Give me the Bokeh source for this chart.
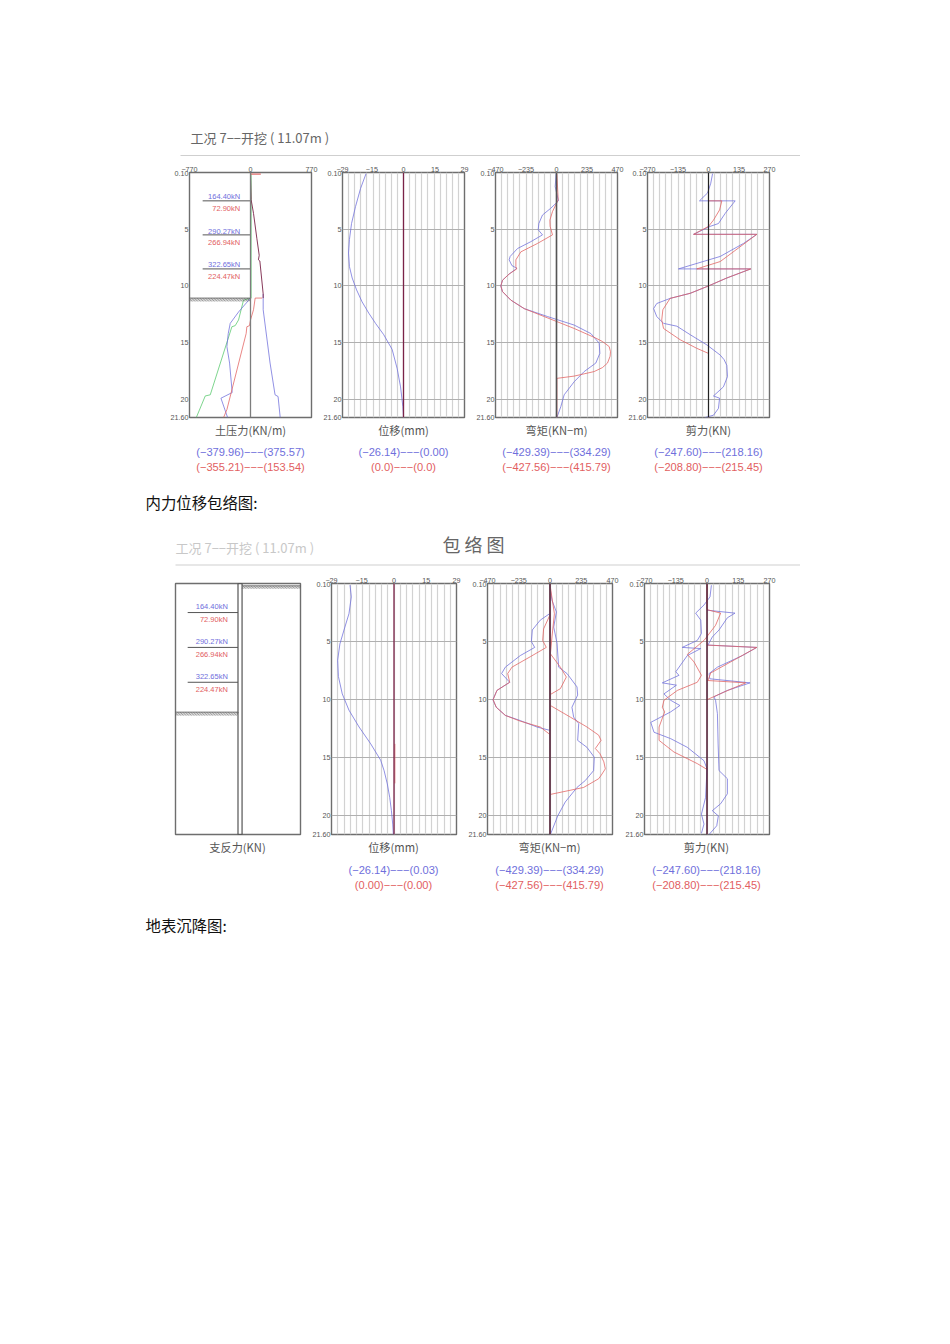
from bokeh.plotting import figure
from bokeh.layouts import column, row
from bokeh.models import Range1d, FixedTicker, Span
from bokeh.core.properties import value
from bokeh.embed import file_html
from bokeh.resources import INLINE
import numpy as np

BLUE, RED, GREEN, MAROON = "#6f6fdc", "#e2605f", "#55c86a", "#7a2348"
CJK, LAT = "Noto Sans CJK SC", "Liberation Sans"

# ---- values: pressure (kN/m) against depth (m)
press_d_spike = [0.15, 0.15]
press_v_spike = [130, 0]
press_d_red_upper = [0.15, 2.4, 3.6, 5.8, 7.3, 7.7, 7.8, 10.7, 11.07]
press_v_red_upper = [0, 8, 38, 80, 110, 100, 118, 160, 160]
press_d_red_lower = [11.07, 11.07, 12.1, 13.0, 13.5, 13.6, 14.2, 20.9, 21.6]
press_v_red_lower = [147, 59, 38, 0, -13, -46, -55, -298, -340]
press_d_blue_right = [10.7, 12.1, 16.8, 19.6, 19.75, 21.6]
press_v_blue_right = [160, 160, 247, 310, 348, 375]
press_d_blue_left = [11.07, 12.3, 13.3, 14.2, 15.35, 16.8, 19.4, 19.9, 21.6]
press_v_blue_left = [0, -151, -256, -281, -298, -264, -231, -373, -289]
press_d_green = [0.1, 11.07, 11.25, 13.0, 13.5, 13.6, 19.6, 19.7, 21.6]
press_v_green = [8, 8, -88, -151, -193, -235, -508, -571, -684]

# ---- displacement (mm)
disp_d_top = [0.1, 1.4, 3.0, 4.5, 5.9, 7.1, 8.3, 9.3, 10.35, 11.4, 12.4, 13.3, 14.3, 15.6, 17.3, 18.9, 20.65, 21.6]
disp_v_top = [-17.8, -20.4, -22.8, -24.7, -25.7, -26.14, -25.7, -24.4, -22.3, -19.7, -16.5, -13.3, -9.4, -5.4, -3.0, -1.4, -0.3, 0]
disp_d_env = [0.14, 1.15, 2.6, 4.0, 5.2, 6.6, 8.0, 9.5, 10.9, 12.35, 13.8, 14.5, 15.2, 16.1, 17.25, 18.4, 19.55, 20.7, 21.6]
disp_v_env = [-20.4, -19.8, -20.9, -23.2, -25.1, -26.14, -25.8, -24.0, -20.9, -16.2, -10.8, -8.5, -6.2, -4.6, -3.1, -2.0, -1.2, -0.6, -0.3]
disp_d_env_red = [13.8, 17.2]
disp_v_env_red = [0.4, 0.4]

# ---- bending moment (kN-m)
mom_d_blue = [0.1, 1.25, 2.5, 3.15, 3.75, 4.5, 5.05, 5.5, 6.1, 6.7, 7.4, 7.7, 8.2, 8.45, 8.95, 9.5, 10, 10.5, 11.25, 12, 12.7, 13.45, 14.2, 15.05, 15.95, 16.8, 17.55, 18.45, 19.6, 20.65, 21.6]
mom_v_blue = [-3, -10, 15, -44, -108, -136, -141, -108, -198, -300, -357, -365, -344, -306, -365, -416, -429, -416, -352, -249, -69, 136, 265, 329, 334, 303, 213, 136, 59, 33, 3]
mom_d_red = [0.1, 2.4, 3.45, 4.2, 4.75, 5.5, 6.25, 7.0, 7.7, 8.3, 8.5, 8.95, 9.5, 10, 10.5, 11.25, 12, 12.7, 13.75, 14.6, 14.9, 15.35, 15.8, 16.2, 16.8, 17.2, 17.55, 17.75, 17.95, 18.15, 21.6]
mom_v_red = [3, 13, -31, -51, -49, -31, -146, -275, -313, -313, -306, -365, -416, -429, -416, -352, -249, -95, 136, 303, 354, 406, 416, 413, 393, 354, 290, 213, 136, 3, 3]
env_mom_d_blue_max = [0.1, 1.45, 2.45, 3.75, 5.15, 7.2, 7.75, 8.9, 9.6, 10.65, 11.5, 12.05, 13.5, 14.1, 14.95, 16.1, 16.95, 17.55, 18.8, 20, 21.6]
env_mom_v_blue_max = [-3, 15, 48, 28, 53, 65, 128, 203, 208, 165, 178, 216, 208, 278, 333, 328, 266, 203, 115, 58, 3]
env_mom_d_blue_min = [2.6, 3.15, 4.0, 5.0, 5.5, 6.2, 7.2, 7.75, 8.5, 9.2, 10, 10.65, 11.35, 11.8, 12.35, 12.65]
env_mom_v_blue_min = [-3, -73, -133, -140, -115, -223, -336, -364, -303, -399, -429, -404, -336, -223, -98, 3]
env_mom_d_red_min = [2.7, 3.9, 4.9, 5.5, 6.3, 7.2, 7.75, 8.5, 9.2, 10, 10.65, 11.35, 11.85, 12.35, 13.0]
env_mom_v_red_min = [0, -48, -55, -28, -148, -286, -318, -303, -399, -428, -404, -336, -223, -73, 0]
env_mom_d_red_a = [0.1, 2.6, 4.6, 6.05, 7.2, 8.05, 9.05, 9.55]
env_mom_v_red_a = [0, 33, 15, 3, 78, 123, 78, 3]
env_mom_d_red_b = [10.5, 11.5, 12.35, 13.05, 13.5, 14.2, 14.65, 15.35, 15.95, 16.5, 16.8, 17.55, 18.15]
env_mom_v_red_b = [3, 153, 278, 366, 384, 341, 376, 405, 416, 385, 366, 253, 3]

# ---- shear (kN)
shear_d_blue = [0.1, 0.95, 1.8, 2.5, 2.5, 3.6, 4.5, 4.75, 5.45, 5.45, 6.25, 7.4, 8.5, 8.5, 9.3, 10, 10.65, 11.1, 11.55, 12, 12.7, 13.3, 13.55, 14.3, 15.2, 16.1, 16.5, 17, 18, 18.9, 19.7, 19.9, 20.8, 21.4, 21.6]
shear_v_blue = [18, 10, -4, -40, 118, 74, 44, 7, -66, 214, 155, 52, -133, 187, 81, 0, -81, -170, -229, -243, -229, -199, -140, -81, -7, 52, 69, 81, 84, 66, 22, 49, 44, 22, -15]
shear_d_red = [0.1, 2.5, 2.5, 3.3, 4.2, 4.75, 5.45, 5.45, 7.85, 8.5, 8.5, 9.3, 10, 10.65, 11.1, 12.1, 13, 13.75, 14.75, 15.5, 15.95, 21.6]
shear_v_red = [0, 0, 59, 49, 22, 0, -66, 214, 52, -52, 187, 81, 0, -81, -170, -202, -207, -199, -125, -52, 0, 0]
env_sh_d_blue_max = [2.3, 2.55, 2.95, 4.0, 4.6, 5.3, 5.5, 6.2, 7.2, 7.75, 8.2, 8.55, 9.2, 9.75, 10.05, 11.2, 13.8, 16.1, 16.8, 18.1, 18.95, 19.55, 20, 20.85, 21.6]
env_sh_v_blue_max = [1, 121, 88, 52, 23, 4, 215, 153, 45, 9, 12, 186, 88, 30, 37, 45, 48, 52, 88, 88, 59, 23, 49, 42, 9]
env_sh_d_blue_min = [0.15, 1.15, 1.85, 2.55, 3.15, 4.3, 4.9, 5.5, 5.6, 6.2, 7.6, 7.9, 8.55, 8.75, 9.5, 10.05, 10.5, 11.05, 11.95, 12.8, 13.35, 14.1, 15.25, 15.95, 18.4, 19.85, 20.7, 21.5]
env_sh_v_blue_min = [19, 13, -13, -49, -27, -24, -42, -107, -27, -85, -135, -121, -193, -132, -186, -157, -117, -157, -243, -229, -157, -85, -13, 0, -6, -24, -13, -24]
env_sh_d_red_a = [0.1, 2.25, 2.55, 3.6, 4.9, 6.1, 6.75, 7.9, 8.5, 9.2, 10.05, 10.65, 11.05, 12.35, 13.5, 14.5, 15.5, 16.0]
env_sh_v_red_a = [0, 0, 59, 37, -13, -85, -56, -24, -42, -128, -186, -193, -183, -207, -207, -143, -42, 0]
env_sh_d_red_b = [5.3, 5.5, 7.7, 8.35, 8.55, 9.35, 10.0]
env_sh_v_red_b = [0, 215, 16, 4, 167, 73, 0]

# ---- struts and labels
strut_depths = [2.5, 5.5, 8.5]
strut_blue = ["164.40kN", "290.27kN", "322.65kN"]
strut_red = ["72.90kN", "266.94kN", "224.47kN"]
excavation_depth = 11.07

press_ticks = [-770, 0, 770]
disp_ticks = [-29, -15, 0, 15, 29]
mom_ticks = [-470, -235, 0, 235, 470]
shear_ticks = [-270, -135, 0, 135, 270]
depth_ticks = [0.1, 5, 10, 15, 20, 21.6]
depth_labels = {0.1: "0.10", 5: "5", 10: "10", 15: "15", 20: "20", 21.6: "21.60"}


def panel(xmax, ticks, left, right, frame_w, frame_h, top, grid=True, axes=True):
    p = figure(width=left + frame_w + right, height=top + frame_h + 6,
               frame_width=frame_w, frame_height=frame_h,
               x_range=Range1d(-xmax, xmax), y_range=Range1d(21.6, 0),
               min_border_left=left, min_border_right=right,
               min_border_top=top, min_border_bottom=6,
               x_axis_location="above", toolbar_location=None, output_backend="svg")
    p.outline_line_color = "#6e6e6e"
    p.outline_line_width = 1.4
    p.xgrid.visible = grid
    p.ygrid.visible = grid
    p.xgrid.ticker = FixedTicker(ticks=list(np.linspace(-xmax, xmax, 21)))
    p.ygrid.ticker = FixedTicker(ticks=[5, 10, 15, 20])
    p.xgrid.grid_line_color = "#d2d2d2"
    p.ygrid.grid_line_color = "#b0b0b0"
    p.xgrid.grid_line_width = 1.2
    p.ygrid.grid_line_width = 1.2
    if not axes:
        p.xaxis.visible = False
        p.yaxis.visible = False
        return p
    p.xaxis.ticker = FixedTicker(ticks=ticks)
    p.yaxis.ticker = FixedTicker(ticks=depth_ticks)
    p.yaxis.major_label_overrides = depth_labels
    for ax in (p.xaxis[0], p.yaxis[0]):
        ax.axis_line_color = None
        ax.major_tick_line_color = None
        ax.minor_tick_line_color = None
        ax.major_tick_out = 0
        ax.major_tick_in = 0
        ax.minor_tick_out = 0
        ax.minor_tick_in = 0
        ax.major_label_text_font = LAT
        ax.major_label_text_font_size = "7.2px"
        ax.major_label_text_color = "#555555"
        ax.major_label_standoff = 1
    p.yaxis[0].major_label_orientation = "horizontal"
    return p


def curve(p, x, y, color, w=0.85):
    p.line(x, y, line_color=color, line_width=w, line_alpha=0.9, line_join="round")


def zero(p, color, w=1.3):
    p.add_layout(Span(location=0, dimension="height", line_color=color, line_width=w))


def hatch(p, x0, x1, d0, d1, n):
    xs = np.linspace(x0, x1, n)
    dx = (x1 - x0) / n * 1.3
    p.segment(xs[:-1], d1, xs[:-1] + dx, d0, line_color="#555555", line_width=0.6)
    p.line([x0, x1], [d0, d0], line_color="#555555", line_width=0.8)


def struts(p, d_blue, d_red, xs, x_text):
    for d, b, r, db, dr in zip(strut_depths, strut_blue, strut_red, d_blue, d_red):
        p.line([xs, 0], [d, d], line_color="#555555", line_width=1)
        p.text([x_text], [db], text=[b], text_color=BLUE, text_font=value(LAT), text_font_size="7.5px",
               text_align="right", text_baseline="middle")
        p.text([x_text], [dr], text=[r], text_color=RED, text_font=value(LAT), text_font_size="7.5px",
               text_align="right", text_baseline="middle")


def page_layer(y0, y1):
    p = figure(width=792, height=y1 - y0, x_range=Range1d(8, 800), y_range=Range1d(y1, y0),
               min_border=0, toolbar_location=None, output_backend="svg")
    p.axis.visible = False
    p.grid.visible = False
    p.outline_line_color = None
    return p


def put(p, x, y, s, size, color, font=CJK, align="center"):
    p.text([x], [y], text=[s], text_color=color, text_font=value(font), text_font_size=f"{size}px",
           text_align=align, text_baseline="middle")


def caption(p, x, y, s, blue=None, red=None, yb=0, yr=0):
    put(p, x, y, s, 11.2, "#555555")
    if blue:
        put(p, x, yb, blue, 11.1, BLUE, LAT)
        put(p, x, yr, red, 11.1, RED, LAT)


# ---------- header
head = page_layer(8, 158)
put(head, 190, 137, "工况  7−−开挖  (  11.07m  )", 13, "#666666", align="left")
head.line([180, 800], [155, 155], line_color="#cfcfcf", line_width=1)

# ---------- first row
a1 = panel(770, press_ticks, 181, 9, 122, 245, 14, grid=False)
zero(a1, "#7d7d7d")
curve(a1, press_v_green, press_d_green, GREEN)
curve(a1, press_v_blue_right, press_d_blue_right, BLUE)
curve(a1, press_v_blue_left, press_d_blue_left, BLUE)
curve(a1, press_v_spike, press_d_spike, RED, 1.2)
curve(a1, press_v_red_upper, press_d_red_upper, MAROON, 1.0)
curve(a1, press_v_red_lower, press_d_red_lower, RED)
hatch(a1, -770, 0, excavation_depth, excavation_depth + 0.3, 40)
struts(a1, [2.1, 5.2, 8.1], [3.2, 6.2, 9.2], -604, -130)

a2 = panel(29, disp_ticks, 22, 9, 122, 245, 14)
curve(a2, disp_v_top, disp_d_top, BLUE)
zero(a2, MAROON)

a3 = panel(470, mom_ticks, 22, 8, 122, 245, 14)
zero(a3, "#555555", 1.6)
curve(a3, mom_v_blue, mom_d_blue, BLUE)
curve(a3, mom_v_red, mom_d_red, RED)

a4 = panel(270, shear_ticks, 22, 31, 122, 245, 14)
zero(a4, "#222222", 1.2)
curve(a4, shear_v_blue, shear_d_blue, BLUE)
curve(a4, shear_v_red, shear_d_red, RED)

# ---------- middle texts
mid = page_layer(423, 570)
caption(mid, 250, 429, "土压力(KN/m)", "(−379.96)−−−(375.57)", "(−355.21)−−−(153.54)", 451, 466)
caption(mid, 403, 429, "位移(mm)", "(−26.14)−−−(0.00)", "(0.0)−−−(0.0)", 451, 466)
caption(mid, 556, 429, "弯矩(KN−m)", "(−429.39)−−−(334.29)", "(−427.56)−−−(415.79)", 451, 466)
caption(mid, 708, 429, "剪力(KN)", "(−247.60)−−−(218.16)", "(−208.80)−−−(215.45)", 451, 466)
put(mid, 145, 501, "内力位移包络图:", 15.4, "#111111", align="left")
put(mid, 175, 547, "工况  7−−开挖  (  11.07m  )", 13, "#c8c8c8", align="left")
put(mid, 473, 543, "包 络 图", 18, "#666666")
mid.line([175, 800], [564.5, 564.5], line_color="#cfcfcf", line_width=1)

# ---------- second row
b1 = panel(770, press_ticks, 167, 9, 125, 251, 13, grid=False, axes=False)
b1.quad(left=[0], right=[50], top=[0], bottom=[21.6], fill_color=None, line_color="#444444", line_width=1.1)
hatch(b1, 50, 770, 0.2, 0.45, 38)
hatch(b1, -770, 0, excavation_depth, excavation_depth + 0.3, 40)
struts(b1, [2.0, 5.0, 8.0], [3.1, 6.1, 9.1], -620, -125)

b2 = panel(29, disp_ticks, 22, 9, 125, 251, 13)
curve(b2, disp_v_env, disp_d_env, BLUE)
zero(b2, MAROON)
curve(b2, disp_v_env_red, disp_d_env_red, RED)

b3 = panel(470, mom_ticks, 22, 10, 125, 251, 13)
zero(b3, "#555555", 1.8)
curve(b3, env_mom_v_blue_max, env_mom_d_blue_max, BLUE)
curve(b3, env_mom_v_blue_min, env_mom_d_blue_min, BLUE)
curve(b3, env_mom_v_red_min, env_mom_d_red_min, RED)
curve(b3, env_mom_v_red_a, env_mom_d_red_a, RED)
curve(b3, env_mom_v_red_b, env_mom_d_red_b, RED)
zero(b3, MAROON, 0.9)

b4 = panel(270, shear_ticks, 22, 31, 125, 251, 13)
zero(b4, "#222222", 1.2)
curve(b4, env_sh_v_blue_max, env_sh_d_blue_max, BLUE)
curve(b4, env_sh_v_blue_min, env_sh_d_blue_min, BLUE)
curve(b4, env_sh_v_red_a, env_sh_d_red_a, RED)
curve(b4, env_sh_v_red_b, env_sh_d_red_b, RED)
zero(b4, MAROON, 0.9)

# ---------- bottom texts
low = page_layer(840, 940)
caption(low, 237, 846, "支反力(KN)")
caption(low, 393, 846, "位移(mm)", "(−26.14)−−−(0.03)", "(0.00)−−−(0.00)", 869, 884)
caption(low, 549, 846, "弯矩(KN−m)", "(−429.39)−−−(334.29)", "(−427.56)−−−(415.79)", 869, 884)
caption(low, 706, 846, "剪力(KN)", "(−247.60)−−−(218.16)", "(−208.80)−−−(215.45)", 869, 884)
put(low, 145, 924, "地表沉降图:", 15.4, "#111111", align="left")

page = column(head, row(a1, a2, a3, a4, spacing=0), mid, row(b1, b2, b3, b4, spacing=0), low,
              spacing=0, margin=(8, 0, 0, 8))
open("out.html", "w").write(file_html(page, INLINE))
